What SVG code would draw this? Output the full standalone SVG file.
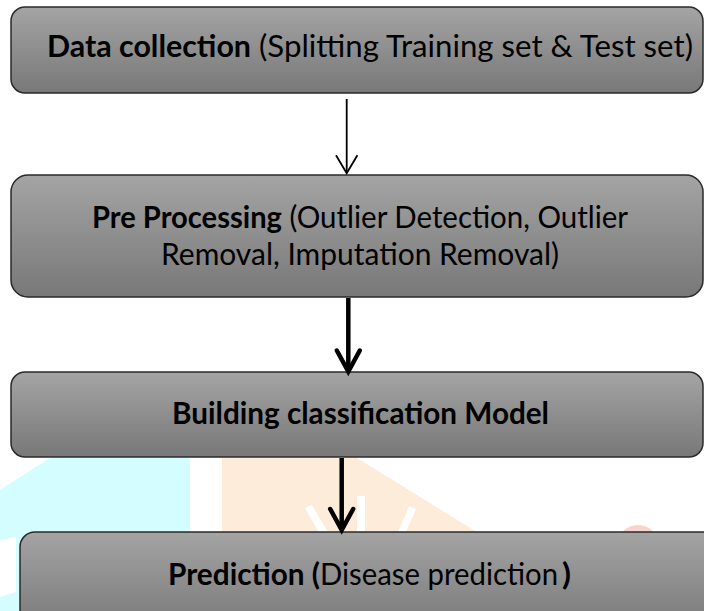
<svg xmlns="http://www.w3.org/2000/svg" width="704" height="611" viewBox="0 0 704 611">
<defs>
<linearGradient id="boxFill" x1="0" y1="0" x2="0" y2="1">
<stop offset="0" stop-color="#a4a4a4"/>
<stop offset="1" stop-color="#787878"/>
</linearGradient>
<marker id="headThin" markerUnits="userSpaceOnUse" viewBox="-20 -12 22 24" refX="0" refY="0" markerWidth="22" markerHeight="24" orient="auto" overflow="visible">
<path d="M-18,-10.7 L0,0 L-18,10.7" fill="none" stroke="#000" stroke-width="1.8"/>
</marker>
<marker id="headThick" markerUnits="userSpaceOnUse" viewBox="-26 -14 30 28" refX="0" refY="0" markerWidth="30" markerHeight="28" orient="auto" overflow="visible">
<path d="M-21,-11.5 L0,0 L-21,11.5" fill="none" stroke="#000" stroke-width="4.5" stroke-linecap="round" stroke-linejoin="miter" stroke-miterlimit="10"/>
</marker>
</defs>
<style>
.box{fill:url(#boxFill);stroke:#2a2a2a;stroke-width:1.5}
.t{font-family:Lato,"Open Sans","Liberation Sans",sans-serif;font-size:30px;fill:#000}
.b{font-weight:bold}
.thin{stroke:#000;stroke-width:1.8;fill:none}
.thick{stroke:#000;stroke-width:4.5;fill:none}
</style>
<rect width="704" height="611" fill="#fff"/>
<g id="watermark">
<polygon points="50,458 190,458 190,611 0,611 0,490" fill="#d3fdfe"/>
<polygon points="0,540 16,537 16,592 0,597" fill="#fff"/>
<polygon points="222,458 357,458 480,534 480,611 222,611" fill="#fdecd9"/>
<polygon points="305,508 312,505 329,534 320,534" fill="#fff"/>
<rect x="357" y="496" width="8" height="38" fill="#fff"/>
<polygon points="409,506 416,509 405,534 397,534" fill="#fff"/>
<ellipse cx="638" cy="546" rx="21" ry="21" fill="#f9d4cf"/>
</g>
<g id="node-data-collection">
<rect class="box" x="11" y="7" width="692" height="86" rx="14"/>
<text class="t" y="57" style="font-size:31px"><tspan class="b" x="47" textLength="204" lengthAdjust="spacingAndGlyphs">Data collection</tspan><tspan x="251" textLength="442" lengthAdjust="spacingAndGlyphs"> (Splitting Training set &amp; Test set)</tspan></text>
</g>
<g id="node-pre-processing">
<rect class="box" x="11" y="175" width="692" height="122" rx="17"/>
<text class="t" y="228"><tspan class="b" x="92" textLength="190" lengthAdjust="spacingAndGlyphs">Pre Processing</tspan><tspan x="282" textLength="346" lengthAdjust="spacingAndGlyphs"> (Outlier Detection, Outlier</tspan></text>
<text class="t" x="161" y="265" textLength="398" lengthAdjust="spacingAndGlyphs">Removal, Imputation Removal)</text>
</g>
<g id="node-building-model">
<rect class="box" x="11" y="372" width="692" height="85" rx="14"/>
<text class="t b" x="172" y="424" textLength="377" lengthAdjust="spacingAndGlyphs">Building classification Model</text>
</g>
<g id="node-prediction">
<rect class="box" x="20" y="532" width="702" height="100" rx="15"/>
<text class="t" y="585"><tspan class="b" x="168" textLength="152" lengthAdjust="spacingAndGlyphs">Prediction (</tspan><tspan x="320" textLength="238" lengthAdjust="spacingAndGlyphs">Disease prediction</tspan><tspan class="b" x="562" textLength="9" lengthAdjust="spacingAndGlyphs">)</tspan></text>
</g>
<g id="connectors">
<line class="thin" x1="346.7" y1="99" x2="346.7" y2="173.3" marker-end="url(#headThin)"/>
<line class="thick" x1="348.3" y1="298" x2="348.3" y2="371.5" marker-end="url(#headThick)"/>
<line class="thick" x1="341.7" y1="458" x2="341.7" y2="530" marker-end="url(#headThick)"/>
</g>
</svg>
